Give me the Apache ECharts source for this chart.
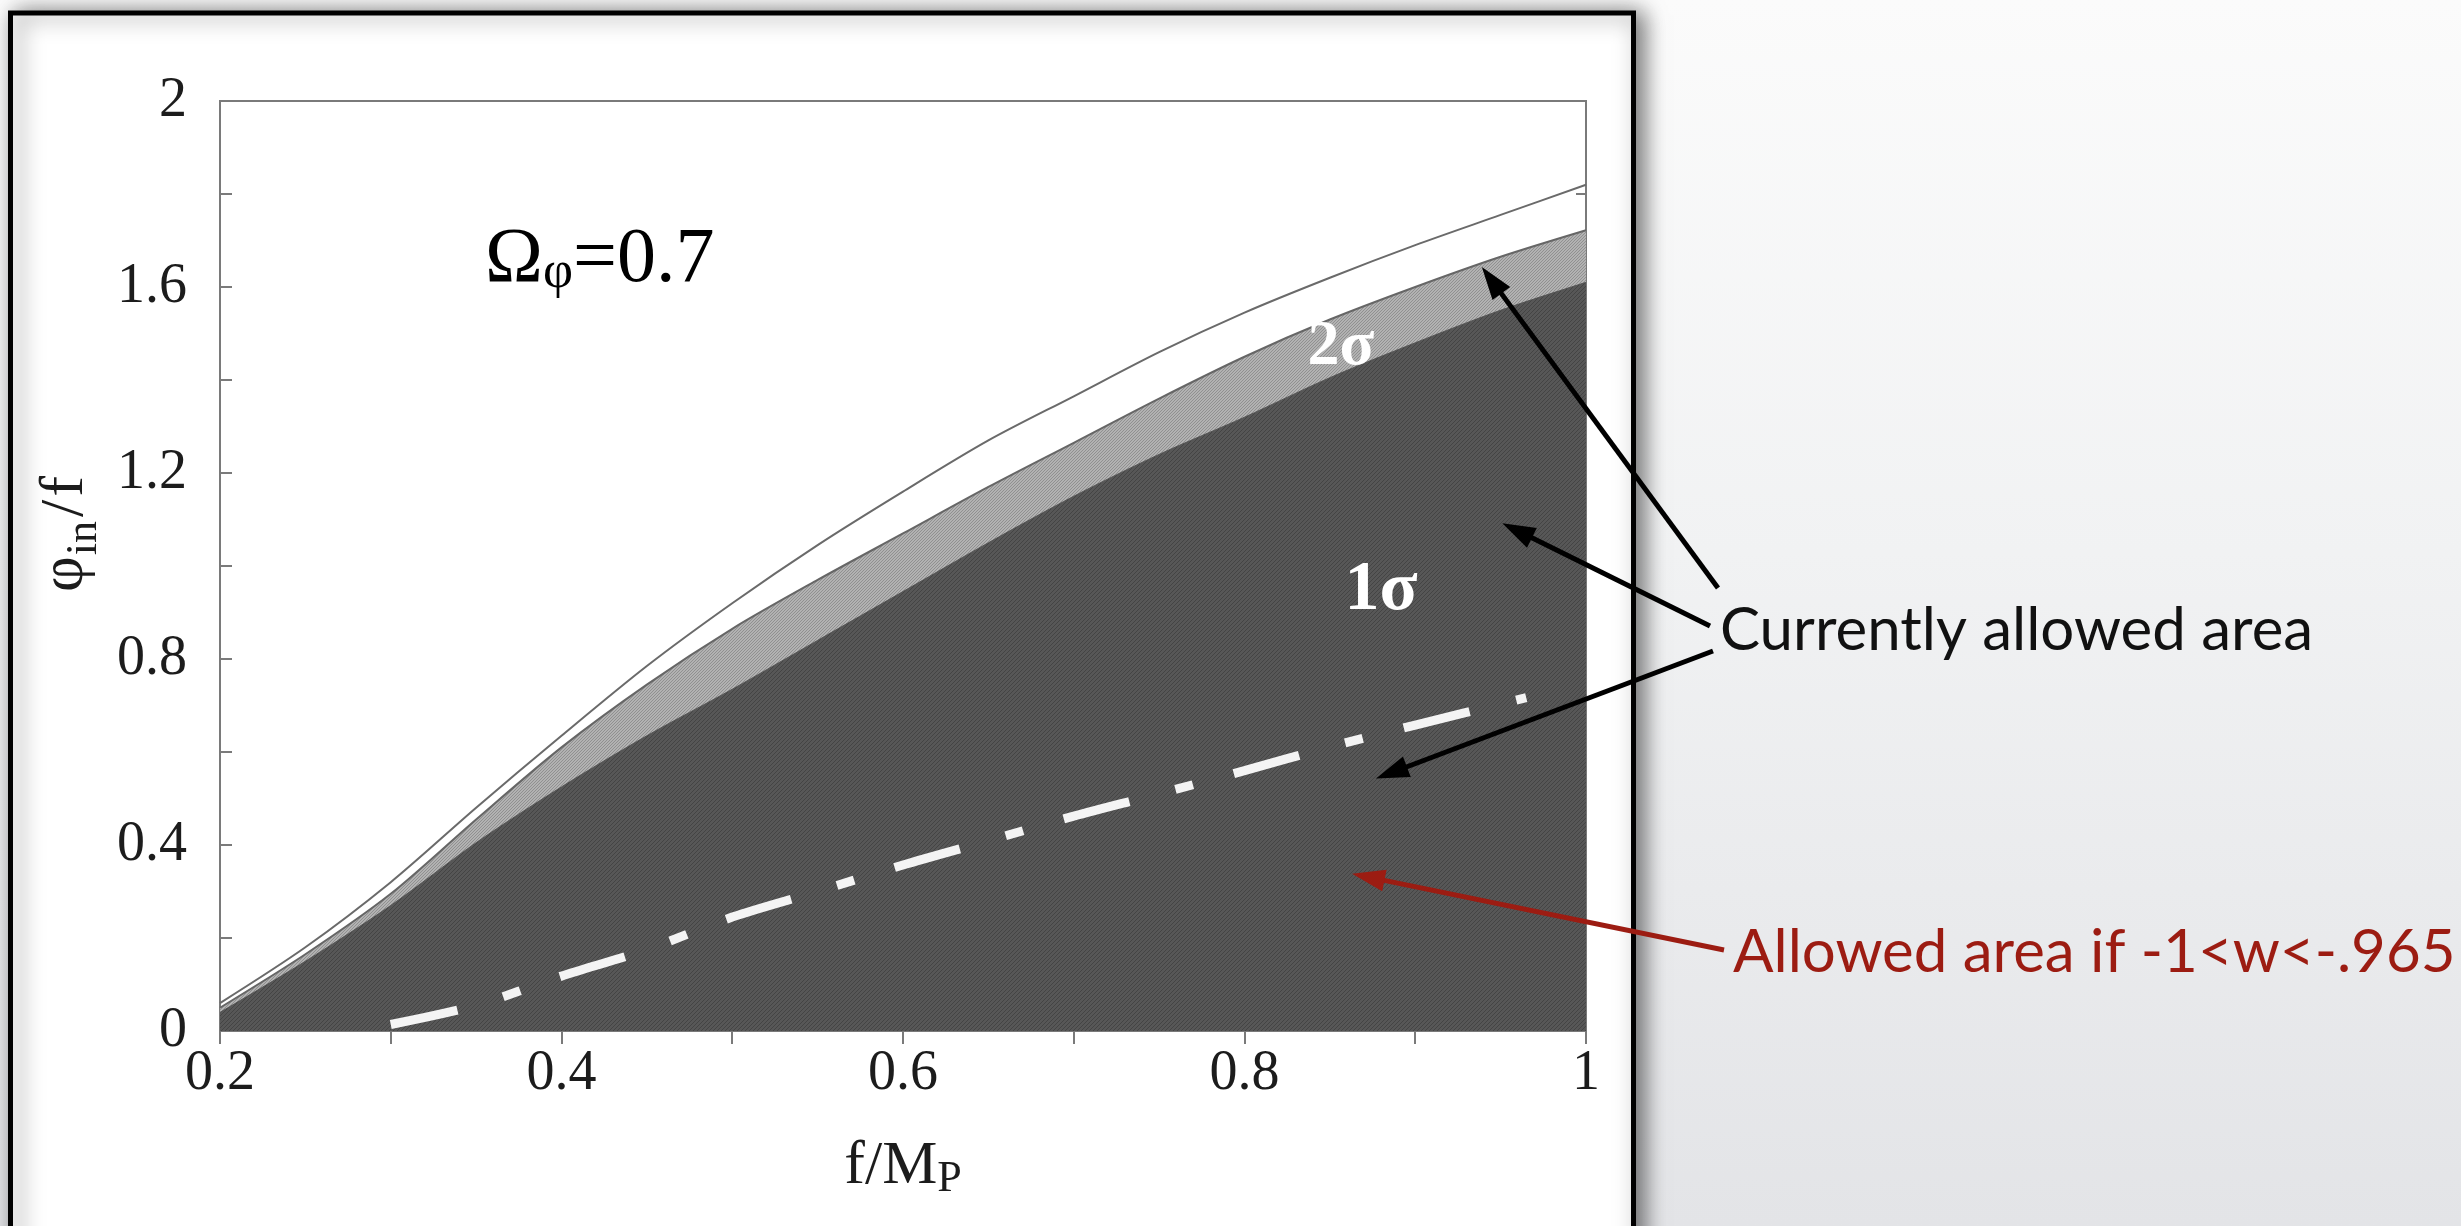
<!DOCTYPE html>
<html>
<head>
<meta charset="utf-8">
<title>phi_in/f against f/MP</title>
<script src="https://cdn.jsdelivr.net/npm/echarts@6/dist/echarts.min.js"></script>
<style>
  html, body { margin: 0; padding: 0; }
  #main {
    width: 2461px;
    height: 1226px;
    background: linear-gradient(to bottom, #fbfbfb 0%, #f1f2f3 45%, #e3e4e7 100%);
  }
</style>
</head>
<body>
<div id="main"></div>
<script>
// values
var fMp = [0.2, 0.25, 0.3, 0.35, 0.4, 0.45, 0.5, 0.55, 0.6, 0.65, 0.7, 0.75, 0.8, 0.85, 0.9, 0.95, 1.0];
var outerEdge = [0.06, 0.18, 0.32, 0.48, 0.635, 0.785, 0.92, 1.045, 1.16, 1.27, 1.365, 1.46, 1.545, 1.62, 1.69, 1.755, 1.82];
var twoSigmaTop = [0.05, 0.165, 0.295, 0.455, 0.61, 0.745, 0.865, 0.97, 1.07, 1.17, 1.265, 1.36, 1.45, 1.53, 1.6, 1.665, 1.722];
var oneSigmaTop = [0.04, 0.15, 0.27, 0.405, 0.525, 0.635, 0.735, 0.84, 0.945, 1.05, 1.15, 1.24, 1.32, 1.405, 1.48, 1.55, 1.61];
var wCutX = [0.3, 0.35, 0.4, 0.45, 0.5, 0.55, 0.6, 0.65, 0.7, 0.75, 0.8, 0.85, 0.9, 0.965];
var wCutY = [0.014, 0.055, 0.118, 0.175, 0.245, 0.3, 0.357, 0.409, 0.462, 0.51, 0.56, 0.611, 0.658, 0.717];
var xTicks = [0.2, 0.4, 0.6, 0.8, 1];
var yTicks = [0, 0.4, 0.8, 1.2, 1.6, 2];

// where the annotation arrows point, in data units
var blackArrowTips = [[0.939, 1.643], [0.951, 1.092], [0.877, 0.543]];
var redArrowTip = [0.863, 0.338];

var serif = 'Liberation Serif';
var dom = document.getElementById('main');
var chart = echarts.init(dom);

function pairs(xs, ys) {
    return xs.map(function (x, i) { return [x, ys[i]]; });
}

function hatch(base, stroke, step) {
    var c = document.createElement('canvas');
    c.width = c.height = step * 4;
    var ctx = c.getContext('2d');
    ctx.fillStyle = base;
    ctx.fillRect(0, 0, c.width, c.height);
    ctx.strokeStyle = stroke;
    ctx.lineWidth = 1;
    for (var i = -c.width; i <= c.width * 2; i += step) {
        ctx.beginPath();
        ctx.moveTo(i, c.height);
        ctx.lineTo(i + c.height, 0);
        ctx.stroke();
    }
    return c;
}

var darkFill = hatch('#575757', '#444444', 4);
var lightFill = hatch('#b2b2b2', '#909090', 3);

var tickStyle = { color: '#7a7a7a', width: 2 };

chart.setOption({
    animation: false,
    backgroundColor: 'transparent',
    grid: {
        left: 220, right: 875, top: 101, bottom: 195,
        show: true, borderColor: '#7a7a7a', borderWidth: 2
    },
    xAxis: [{
        type: 'value',
        min: xTicks[0], max: xTicks[xTicks.length - 1], interval: 0.2,
        name: '{a|f/M}{p|P}',
        nameLocation: 'middle',
        nameGap: 101,
        nameTextStyle: {
            rich: {
                a: { fontSize: 62, fontFamily: serif, color: '#1c1c1c' },
                p: { fontSize: 44, fontFamily: serif, color: '#1c1c1c', padding: [25, 0, 0, 0] }
            }
        },
        axisLine: { show: false },
        axisTick: { inside: true, length: 12, lineStyle: tickStyle },
        splitLine: { show: false },
        axisLabel: { margin: 15, fontSize: 56, fontFamily: serif, color: '#1c1c1c' }
    }, {
        type: 'value', position: 'top',
        min: 0.2, max: 1, interval: 0.1,
        axisLine: { show: false },
        axisTick: { inside: true, length: 13, lineStyle: tickStyle },
        axisLabel: { show: false },
        splitLine: { show: false }
    }],
    yAxis: [{
        type: 'value',
        min: yTicks[0], max: yTicks[yTicks.length - 1], interval: 0.4,
        name: '{a|φ}{s|in}{b|/}{a|f}',
        nameLocation: 'middle',
        nameGap: 108,
        nameTextStyle: {
            padding: [0, 0, 0, 64],
            rich: {
                a: { fontSize: 62, fontFamily: serif, color: '#1c1c1c' },
                b: { fontSize: 62, fontFamily: serif, color: '#1c1c1c', padding: [0, 3, 0, 3] },
                s: { fontSize: 44, fontFamily: serif, color: '#1c1c1c', padding: [36, 1, 0, 1] }
            }
        },
        axisLine: { show: false },
        axisTick: { inside: true, length: 12, lineStyle: tickStyle },
        minorTick: { show: true, splitNumber: 2, length: 12, lineStyle: tickStyle },
        splitLine: { show: false },
        minorSplitLine: { show: false },
        axisLabel: { margin: 33, fontSize: 56, fontFamily: serif, color: '#1c1c1c' }
    }, {
        type: 'value', position: 'right',
        min: 0, max: 2, interval: 0.2,
        axisLine: { show: false },
        axisTick: { inside: true, length: 10, lineStyle: tickStyle },
        axisLabel: { show: false },
        splitLine: { show: false }
    }],
    series: [{
        name: '2σ',
        type: 'line',
        data: pairs(fMp, twoSigmaTop),
        smooth: 0.3,
        symbol: 'none',
        lineStyle: { color: '#666', width: 2 },
        areaStyle: { color: { image: lightFill, repeat: 'repeat' }, opacity: 1 },
        z: 2
    }, {
        name: '1σ',
        type: 'line',
        data: pairs(fMp, oneSigmaTop),
        smooth: 0.3,
        symbol: 'none',
        lineStyle: { color: '#555', width: 1 },
        areaStyle: { color: { image: darkFill, repeat: 'repeat' }, opacity: 1 },
        z: 3
    }, {
        name: 'outer limit',
        type: 'line',
        data: pairs(fMp, outerEdge),
        smooth: 0.3,
        symbol: 'none',
        lineStyle: { color: '#6a6a6a', width: 2 },
        z: 4
    }, {
        name: '-1<w<-.965',
        type: 'line',
        data: pairs(wCutX, wCutY),
        smooth: 0.3,
        symbol: 'none',
        lineStyle: { color: '#f4f4f4', width: 9, type: [68, 48, 18, 42], cap: 'butt' },
        z: 5
    }]
});

function arrow(id, from, to, color) {
    var dx = to[0] - from[0], dy = to[1] - from[1];
    var len = Math.sqrt(dx * dx + dy * dy);
    var ux = dx / len, uy = dy / len;
    var head = 33, half = 11;
    var bx = to[0] - ux * head, by = to[1] - uy * head;
    return [{
        type: 'line', id: id + '-line', z: 50,
        shape: { x1: from[0], y1: from[1], x2: bx + ux * 4, y2: by + uy * 4 },
        style: { stroke: color, lineWidth: 5 }
    }, {
        type: 'polygon', id: id + '-head', z: 50,
        shape: { points: [to, [bx - uy * half, by + ux * half], [bx + uy * half, by - ux * half]] },
        style: { fill: color }
    }];
}

var tails = [[1718, 588], [1710, 626], [1713, 651]];
var graphics = [{
    type: 'rect', id: 'panel', z: -10,
    shape: { x: 10.5, y: 13, width: 1623, height: 1300 },
    style: {
        fill: '#fff', stroke: '#000', lineWidth: 5,
        shadowBlur: 22, shadowOffsetX: 7, shadowOffsetY: 2, shadowColor: 'rgba(0,0,0,0.55)'
    }
}, {
    type: 'text', id: 'omega', z: 60, x: 485, y: 261,
    style: {
        text: '{a|Ω}{b|φ}{a|=0.7}',
        align: 'left', verticalAlign: 'middle',
        rich: {
            a: { fontSize: 78, fontFamily: serif, fill: '#000' },
            b: { fontSize: 52, fontFamily: serif, fill: '#000', padding: [24, 0, 0, 0] }
        }
    }
}, {
    type: 'text', id: 'two-sigma', z: 60, x: 1341, y: 347,
    style: { text: '2σ', align: 'center', verticalAlign: 'middle', fontSize: 64, fontWeight: 'bold', fontFamily: serif, fill: '#fff' }
}, {
    type: 'text', id: 'one-sigma', z: 60, x: 1381, y: 591,
    style: { text: '1σ', align: 'center', verticalAlign: 'middle', fontSize: 70, fontWeight: 'bold', fontFamily: serif, fill: '#fff' }
}, {
    type: 'text', id: 'current', z: 60, x: 1720, y: 631,
    style: { text: 'Currently allowed area', align: 'left', verticalAlign: 'middle', fontSize: 60, fontFamily: 'Lato', fill: '#111' }
}, {
    type: 'text', id: 'w-range', z: 60, x: 1733, y: 953,
    style: { text: 'Allowed area if -1<w<-.965', align: 'left', verticalAlign: 'middle', fontSize: 60, fontFamily: 'Lato', fill: '#9c1c12' }
}];

blackArrowTips.forEach(function (p, i) {
    var tip = chart.convertToPixel({ seriesIndex: 0 }, p);
    graphics = graphics.concat(arrow('black' + i, tails[i], tip, '#000'));
});
graphics = graphics.concat(arrow('red', [1724, 950], chart.convertToPixel({ seriesIndex: 0 }, redArrowTip), '#9c1c12'));

chart.setOption({ graphic: graphics });
</script>
</body>
</html>
